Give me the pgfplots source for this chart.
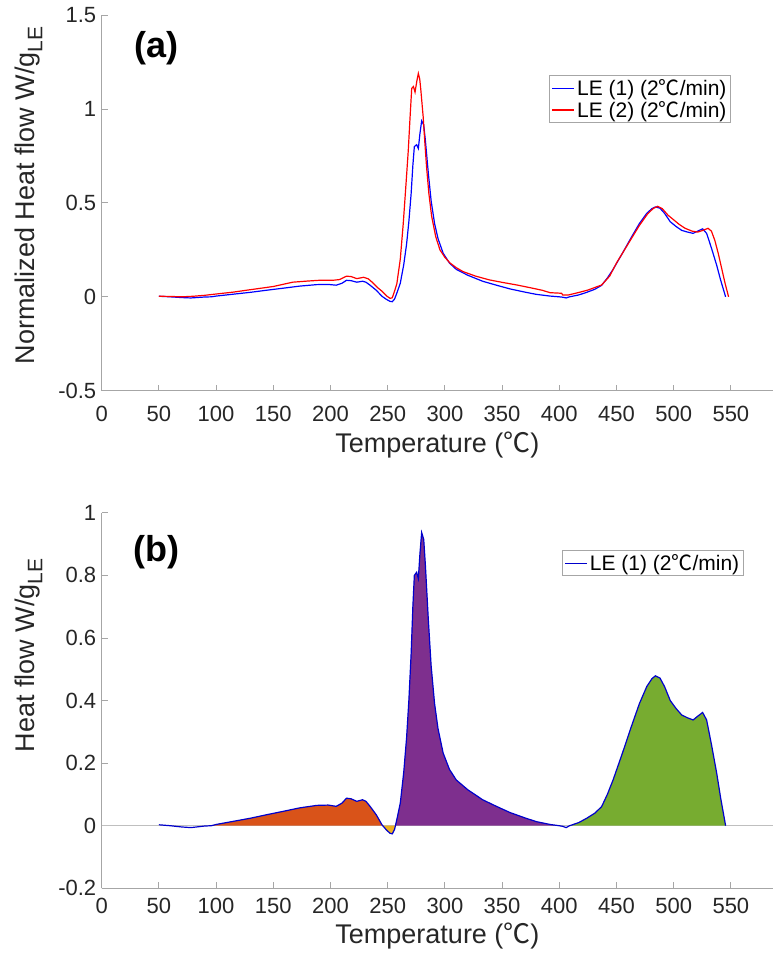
\documentclass[border=0pt]{standalone}
\usepackage{fontspec}
\setmainfont{Liberation Sans}
\newfontfamily\cjk{Noto Sans CJK SC}
\usepackage{pgfplots}
\pgfplotsset{compat=1.18}
\usepackage{pgfplotstable}

\definecolor{mOrange}{rgb}{0.85,0.325,0.098}
\definecolor{mYellow}{rgb}{0.929,0.694,0.125}
\definecolor{mPurple}{rgb}{0.494,0.184,0.556}
\definecolor{mGreen}{rgb}{0.466,0.674,0.188}
\definecolor{txt}{rgb}{0.15,0.15,0.15}
\newcommand{\degC}{{\cjk ℃}}
\newcommand{\gLE}{g\raisebox{-0.28em}{\fontsize{21}{21}\selectfont LE}}

\pgfplotstableread{
T v
50 0.003
60 0.0
70 -0.004
78 -0.006
90 -0.001
95.8 0.0
100 0.004
115 0.014
130 0.024
144 0.035
160 0.047
173 0.057
188 0.065
198 0.066
205 0.062
210 0.072
214 0.088
218 0.086
223 0.078
228 0.083
231 0.078
235 0.060
240 0.035
245 0.003
245.7 0.0
249 -0.014
252 -0.024
254 -0.026
256 -0.012
256.75 0.0
258 0.02
261 0.072
264 0.17
266.5 0.28
268.5 0.40
270.5 0.55
272 0.70
273.3 0.80
275.3 0.81
276.8 0.79
278.2 0.87
279.7 0.937
281.5 0.915
283 0.83
285.5 0.66
288 0.51
291 0.39
294 0.31
298.5 0.232
304 0.18
310 0.146
320 0.115
333 0.083
345 0.062
357 0.042
370 0.025
380 0.013
392 0.004
400 0.0
403 -0.002
406 -0.006
409 0.0
417 0.01
424 0.024
431 0.04
437 0.061
442 0.10
447 0.146
455 0.23
463 0.317
470 0.39
476.5 0.445
481 0.47
484 0.479
488 0.472
492 0.445
497 0.40
502 0.375
507 0.354
512 0.345
517 0.338
521 0.35
525.3 0.362
528.8 0.338
533 0.26
537.6 0.168
541 0.09
545.4 0.0
}\leone

\pgfplotstableread{
T v
50 0.003
60 0.002
70 0.0
80 0.003
90 0.008
100 0.015
115 0.025
130 0.038
150 0.055
167 0.078
180 0.084
190 0.088
202 0.088
208 0.092
214 0.11
218 0.108
223 0.097
229 0.104
233 0.096
237 0.075
241 0.05
245 0.03
249 0.005
252 -0.008
254 -0.005
256 0.03
258 0.07
261 0.2
263.6 0.39
266 0.6
268 0.78
269.5 0.95
271 1.11
272.5 1.12
273.9 1.09
275.5 1.15
276.8 1.19
278 1.16
279 1.10
281 0.96
282.5 0.82
284 0.69
286 0.55
288.4 0.43
292 0.32
295.7 0.25
300 0.21
304.5 0.18
310 0.155
316 0.134
327 0.11
339 0.09
351 0.076
363 0.063
375 0.048
385 0.035
392 0.022
402 0.019
403 0.01
408 0.01
415 0.02
425 0.036
437 0.063
444 0.11
450 0.18
457 0.25
463 0.31
470 0.38
477 0.44
482 0.47
486 0.482
490 0.47
495 0.435
500 0.41
505 0.385
510 0.365
516 0.35
521 0.345
526 0.355
530 0.365
533 0.35
536 0.30
539 0.23
542 0.15
545 0.07
548 0.0
}\letwo

\pgfplotsset{
 common/.style={
  scale only axis, width=671.5pt, height=375.5pt,
  xmin=0, xmax=587,
  axis x line=bottom, axis y line=left,
  axis line style={-, draw=black!35, line width=0.9pt},
  tick align=inside, major tick length=6pt,
  tick style={draw=black!35, line width=0.9pt},
  xtick={0,50,...,550},
  xticklabels={0,50,100,150,200,250,300,350,400,450,500,550},
  ticklabel style={font=\fontsize{22}{26}\selectfont, text=txt},
  yticklabel style={xshift=-2pt},
  label style={font=\fontsize{27}{31}\selectfont, text=txt},
  xlabel={Temperature (\degC)},
  legend style={font=\fontsize{21}{24}\selectfont, draw=black!35, line width=0.9pt, inner sep=2pt, legend cell align=left, text=black},
  legend image code/.code={\draw[#1, line width=1.3pt] (0pt,0pt) -- (22pt,0pt);},
 }
}

\begin{document}
\begin{tikzpicture}
\path[use as bounding box] (-101.7pt,-569.3pt) rectangle (671.3pt,390.7pt);
\begin{axis}[common,
  ymin=-0.5, ymax=1.5,
  ytick={-0.5,0,0.5,1,1.5},
  yticklabels={-0.5,0,0.5,1,1.5},
  ylabel={Normalized Heat flow W/\gLE},
  ylabel style={at={(ticklabel cs:0.52,9pt)}},
  xticklabel style={yshift=-12pt},
  xlabel style={yshift=-3pt},
  legend style={at={(0.937,0.84)}, anchor=north east},
]
\addplot[blue, line width=1.2pt] table[x=T,y=v]{\leone};
\addlegendentry{LE (1) (2\degC/min)}
\addplot[red, line width=1.2pt] table[x=T,y=v]{\letwo};
\addlegendentry{LE (2) (2\degC/min)}
\node[font=\bfseries\fontsize{36}{40}\selectfont, text=black] at (rel axis cs:0.082,0.912) {(a)};
\end{axis}

\begin{axis}[common, at={(0pt,-497.6pt)},
  ymin=-0.2, ymax=1,
  ytick={-0.2,0,0.2,0.4,0.6,0.8,1},
  yticklabels={-0.2,0,0.2,0.4,0.6,0.8,1},
  ylabel={Heat flow W/\gLE},
  ylabel style={at={(ticklabel cs:0.62,9pt)}},
  xticklabel style={yshift=-6pt},
  xlabel style={yshift=-3pt},
  legend style={at={(0.956,0.901)}, anchor=north east},
]
\addplot[draw=black!25, line width=0.9pt, forget plot] coordinates {(0,0) (587,0)};
\addplot[fill=mOrange, draw=none, forget plot, restrict x to domain=95.8:245.7] table[x=T,y=v]{\leone} \closedcycle;
\addplot[fill=mYellow, draw=none, forget plot, restrict x to domain=245.7:256.75] table[x=T,y=v]{\leone} \closedcycle;
\addplot[fill=mPurple, draw=none, forget plot, restrict x to domain=256.75:400] table[x=T,y=v]{\leone} \closedcycle;
\addplot[fill=mGreen, draw=none, forget plot, restrict x to domain=409:545.4] table[x=T,y=v]{\leone} \closedcycle;
\addplot[blue!80!black, line width=1.2pt] table[x=T,y=v]{\leone};
\addlegendentry{LE (1) (2\degC/min)}
\node[font=\bfseries\fontsize{36}{40}\selectfont, text=black] at (rel axis cs:0.082,0.896) {(b)};
\end{axis}
\end{tikzpicture}
\end{document}
